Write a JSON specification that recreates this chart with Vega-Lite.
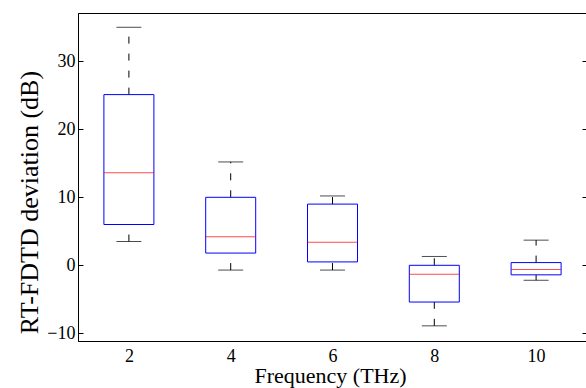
{
  "$schema": "https://vega.github.io/schema/vega-lite/v6.json",
  "width": 509,
  "height": 328,
  "autosize": {"type": "none"},
  "padding": {"left": 78, "top": 13, "right": 0, "bottom": 47},
  "background": "white",
  "config": {
    "font": "Liberation Serif",
    "view": {"stroke": "black", "strokeWidth": 1},
    "axis": {"grid": false, "labelColor": "black", "titleColor": "black", "domainColor": "black", "tickColor": "black", "labelFontSize": 18, "titleFontWeight": "normal"}
  },
  "data": {"values": [
    {"freq": 2, "lower": 3.5, "q1": 6.0, "median": 13.6, "q3": 25.1, "upper": 35.0},
    {"freq": 4, "lower": -0.7, "q1": 1.8, "median": 4.2, "q3": 10.0, "upper": 15.2},
    {"freq": 6, "lower": -0.7, "q1": 0.5, "median": 3.4, "q3": 9.0, "upper": 10.2},
    {"freq": 8, "lower": -8.9, "q1": -5.4, "median": -1.3, "q3": 0.0, "upper": 1.3},
    {"freq": 10, "lower": -2.2, "q1": -1.4, "median": -0.6, "q3": 0.4, "upper": 3.7}
  ]},
  "encoding": {
    "x": {"field": "freq", "type": "quantitative", "scale": {"domain": [1, 11], "nice": false, "zero": false, "padding": 0},
      "axis": {"values": [2, 4, 6, 8, 10], "ticks": false, "labelPadding": 6, "title": "Frequency (THz)", "titleFontSize": 22, "titleBaseline": "alphabetic", "titleY": 41, "titleX": 252}}
  },
  "layer": [
    {
      "mark": {"type": "rule", "color": "black", "strokeWidth": 1, "strokeDash": [7, 10]},
      "encoding": {
        "y": {"field": "q3", "type": "quantitative", "scale": {"domain": [-11.13, 37.1], "nice": false, "zero": false, "padding": 0},
          "axis": {"values": [-10, 0, 10, 20, 30], "tickSize": -5, "labelPadding": 8, "title": "RT-FDTD deviation (dB)", "titleFontSize": 26, "titleAngle": -90, "titleBaseline": "alphabetic", "titleAlign": "center", "titleX": -41, "titleY": 189}},
        "y2": {"field": "upper"}
      }
    },
    {
      "mark": {"type": "rule", "color": "black", "strokeWidth": 1, "strokeDash": [7, 10]},
      "encoding": {"y": {"field": "lower", "type": "quantitative"}, "y2": {"field": "q1"}}
    },
    {
      "mark": {"type": "tick", "orient": "horizontal", "color": "black", "size": 25, "thickness": 1},
      "encoding": {"y": {"field": "upper", "type": "quantitative"}}
    },
    {
      "mark": {"type": "tick", "orient": "horizontal", "color": "black", "size": 25, "thickness": 1},
      "encoding": {"y": {"field": "lower", "type": "quantitative"}}
    },
    {
      "mark": {"type": "bar", "width": 50, "fill": "white", "fillOpacity": 0, "stroke": "#0000ff", "strokeWidth": 1},
      "encoding": {"y": {"field": "q1", "type": "quantitative"}, "y2": {"field": "q3"}}
    },
    {
      "mark": {"type": "tick", "orient": "horizontal", "color": "#ff0000", "size": 50, "thickness": 1},
      "encoding": {"y": {"field": "median", "type": "quantitative",
        "axis": {"orient": "right", "values": [-10, 0, 10, 20, 30], "tickSize": -5, "labels": false, "domain": false, "title": null}}}
    }
  ],
  "resolve": {"axis": {"y": "independent"}}
}
